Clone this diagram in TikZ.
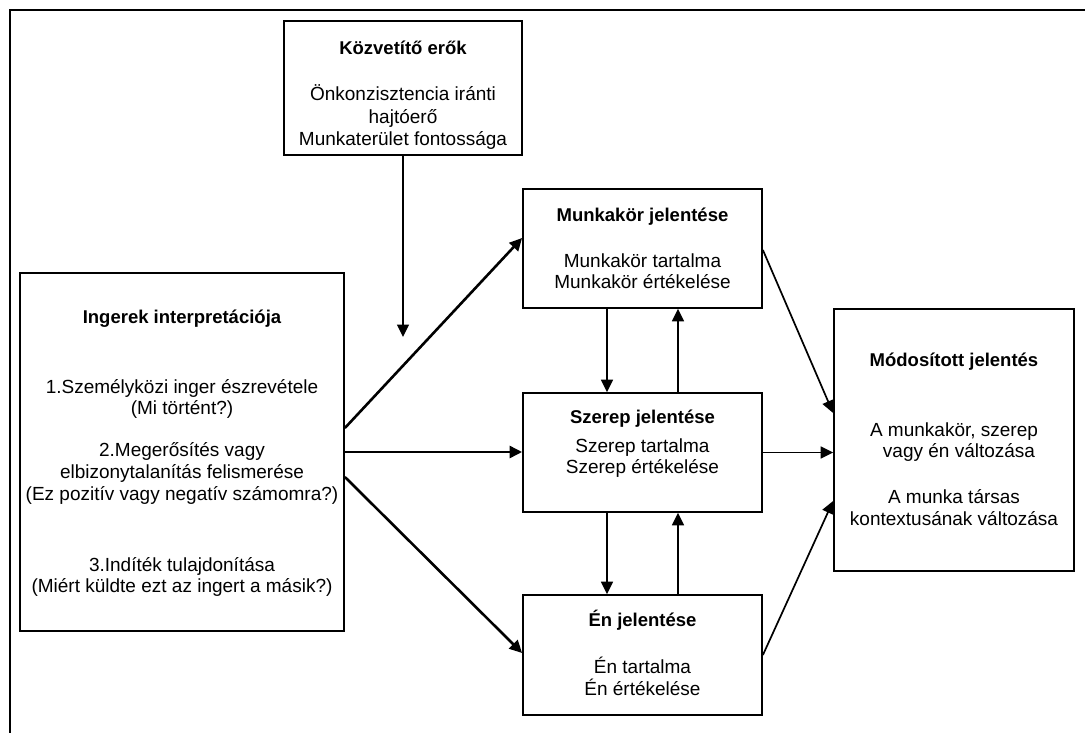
\documentclass[tikz,border=0pt]{standalone}
\usepackage{fontspec}
\setmainfont{Liberation Sans}
\usetikzlibrary{arrows.meta}
\begin{document}
\begin{tikzpicture}[x=1pt,y=-1pt,
  box/.style={draw=black, line width=1.8pt, fill=white, inner sep=0pt},
  txt/.style={anchor=base, inner sep=0pt, font=\fontsize{19}{22}\selectfont},
  ttl/.style={anchor=base, inner sep=0pt, font=\fontsize{18.5}{22}\selectfont\bfseries},
  tip/.style={-{Triangle[length=12.5pt,width=12pt]}},
  arrthick/.style={tip, line width=2.6pt},
  arrthin/.style={tip, line width=1.7pt},
  frame/.style={line width=2.4pt, draw=black}
]
\useasboundingbox (0,0) rectangle (1085,733);

% open outer frame (left and top edges)
\draw[frame] (9.7,733) -- (9.7,10.3) -- (1085,10.3);

% boxes
\node[box, minimum width=238pt, minimum height=134pt] (kf)  at (403,88) {};
\node[box, minimum width=324pt, minimum height=358pt] (ing) at (182,452) {};
\node[box, minimum width=239pt, minimum height=119pt] (mk)  at (642.5,248.5) {};
\node[box, minimum width=239pt, minimum height=119pt] (sz)  at (642.5,452.5) {};
\node[box, minimum width=239pt, minimum height=120pt] (en)  at (642.5,655) {};
\node[box, minimum width=240pt, minimum height=262pt] (mod) at (954,440) {};

% texts: mediating forces
\node[ttl] (kf0) at (403,54.3) {Közvetítő erők};
\node[txt] (kf1) at (403,100.7) {Önkonzisztencia iránti};
\node[txt] (kf2) at (403,123.3) {hajtóerő};
\node[txt] (kf3) at (403,146) {Munkaterület fontossága};

% texts: interpretation of stimuli
\node[ttl] (ing0) at (182,323.3) {Ingerek interpretációja};
\node[txt] (ing1) at (182,393.3) {1.Személyközi inger észrevétele};
\node[txt] (ing2) at (182,414) {(Mi történt?)};
\node[txt] (ing3) at (182,456.7) {2.Megerősítés vagy};
\node[txt] (ing4) at (182,478.3) {elbizonytalanítás felismerése};
\node[txt] (ing5) at (182,500) {(Ez pozitív vagy negatív számomra?)};
\node[txt] (ing6) at (182,571) {3.Indíték tulajdonítása};
\node[txt] (ing7) at (182,592.3) {(Miért küldte ezt az ingert a másik?)};

% texts: job meaning
\node[ttl] (mk0) at (642.5,221.7) {Munkakör jelentése};
\node[txt] (mk1) at (642.5,267.7) {Munkakör tartalma};
\node[txt] (mk2) at (642.5,288.3) {Munkakör értékelése};

% texts: role meaning
\node[ttl] (sz0) at (642.5,423.5) {Szerep jelentése};
\node[txt] (sz1) at (642.5,452.5) {Szerep tartalma};
\node[txt] (sz2) at (642.5,473) {Szerep értékelése};

% texts: self meaning
\node[ttl] (en0) at (642.5,626.7) {Én jelentése};
\node[txt] (en1) at (642.5,673.3) {Én tartalma};
\node[txt] (en2) at (642.5,695) {Én értékelése};

% texts: modified meaning
\node[ttl] (mod0) at (954,366.7) {Módosított jelentés};
\node[txt] (mod1) at (954,436.7) {A munkakör, szerep};
\node[txt] (mod2) at (959,457.3) {vagy én változása};
\node[txt] (mod3) at (954,503.3) {A munka társas};
\node[txt] (mod4) at (954,525) {kontextusának változása};

% mediating forces act on the links
\coordinate (kend) at (403,337);
\draw[tip, line width=1.4pt] (kf.south) -- (kend);

% interpretation feeds the three meanings
\draw[arrthick] ([yshift=24pt]ing.east) -- ([yshift=10.5pt]mk.west);
\draw[arrthick] (ing.east) -- (ing.east -| sz.west);
\draw[arrthick] ([yshift=-25pt]ing.east) -- ([yshift=2pt]en.west);

% reciprocal links between meanings
\draw[arrthin] ([xshift=-35.5pt]mk.south) -- ([xshift=-35.5pt]sz.north);
\draw[arrthin] ([xshift=35.5pt]sz.north) -- ([xshift=35.5pt]mk.south);
\draw[arrthin] ([xshift=-35.5pt]sz.south) -- ([xshift=-35.5pt]en.north);
\draw[arrthin] ([xshift=35.5pt]en.north) -- ([xshift=35.5pt]sz.south);

% meanings lead to the modified meaning
\draw[arrthin] ([yshift=-1.5pt]mk.east) -- ([yshift=27pt]mod.west);
\draw[arrthin] (sz.east) -- (sz.east -| mod.west);
\draw[arrthin] (en.east) -- ([yshift=-61pt]mod.west);
\end{tikzpicture}
\end{document}
